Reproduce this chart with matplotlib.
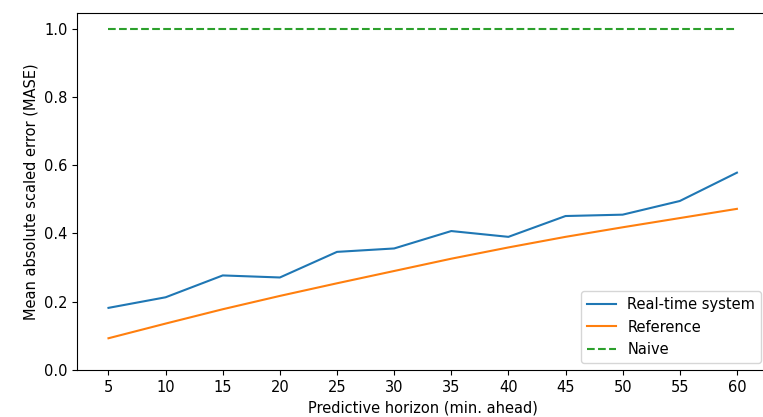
import matplotlib
matplotlib.use('Agg')
import matplotlib.pyplot as plt

# Predictive horizon (minutes ahead)
horizon = [5, 10, 15, 20, 25, 30, 35, 40, 45, 50, 55, 60]

# MASE per horizon
real_time = [0.182, 0.213, 0.277, 0.271, 0.346, 0.356, 0.407, 0.390, 0.451, 0.455, 0.495, 0.578]
reference = [0.093, 0.136, 0.178, 0.217, 0.254, 0.290, 0.326, 0.359, 0.390, 0.418, 0.445, 0.472]
naive = [1.0] * len(horizon)

fig = plt.figure(figsize=(7.63, 4.17), dpi=100)
# right spine sits just outside the image in the reference
ax = fig.add_axes([0.101, 0.1127, 0.906, 0.856])

ax.plot(horizon, real_time, color='tab:blue', label='Real-time system')
ax.plot(horizon, reference, color='tab:orange', label='Reference')
ax.plot(horizon, naive, color='tab:green', linestyle='--', label='Naive')

ax.set_xticks(horizon)
ax.set_ylim(0, 1.0455)
ax.set_xlim(2.25, 62.75)
ax.tick_params(labelsize=10.5)
ax.set_xlabel('Predictive horizon (min. ahead)', fontsize=10.5)
ax.set_ylabel('Mean absolute scaled error (MASE)', fontsize=10.5)
ax.legend(loc='lower right', fontsize=10.5)

fig.savefig('out.png', dpi=100)
